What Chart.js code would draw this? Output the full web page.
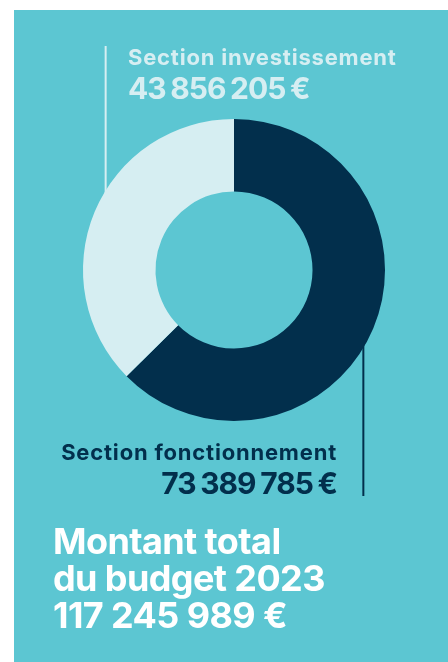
<!DOCTYPE html>
<html lang="fr">
<head>
<meta charset="UTF-8">
<title>Budget 2023</title>
<script src="https://cdn.jsdelivr.net/npm/chart.js"></script>
<style>
  html, body { margin: 0; padding: 0; background: #fff; }
  body { width: 448px; height: 662px; position: relative; overflow: hidden; font-family: Inter, Roboto, sans-serif; font-weight: 700; }
  #panel { position: absolute; left: 14px; top: 10px; right: 0; bottom: 0; background: #5cc6d2; }
  #wrap { position: absolute; left: 0; top: 0; width: 448px; height: 662px; }
  .t { position: absolute; line-height: 1; white-space: nowrap; }
  .lbl { font-size: 22px; letter-spacing: 0.8px; }
  .num { font-size: 30px; letter-spacing: -1px; word-spacing: -1.5px; }
  .light { color: #d6eef2; }
  .dark { color: #022f4c; }
  #total { left: 53px; top: 523px; font-size: 36px; line-height: 37px; color: #fff; letter-spacing: -0.6px; word-spacing: 0; }
</style>
</head>
<body>
<div id="panel"></div>
<div id="wrap"><canvas id="budget"></canvas></div>

<div class="t lbl light" style="left:128px; top:46px;" id="lblInv"></div>
<div class="t num light" style="left:128px; top:73px;" id="valInv"></div>
<div class="t lbl dark" style="right:111px; top:441px; text-align:right;" id="lblFon"></div>
<div class="t num dark" style="right:111px; top:468px; text-align:right;" id="valFon"></div>
<div class="t" id="total">Montant total<br>du budget 2023<br><span id="valTot"></span></div>

<script>
// données du budget 2023
const sections = ["Section fonctionnement", "Section investissement"];
const montants = [73389785, 43856205];
const couleurs = ["#022f4c", "#d6eef2"];
const totalBudget = 117245989;

// format "73 389 785 €"
function euros(v) {
    return v.toString().replace(/\B(?=(\d{3})+(?!\d))/g, " ") + " €";
}

document.getElementById("lblFon").textContent = sections[0];
document.getElementById("valFon").textContent = euros(montants[0]);
document.getElementById("lblInv").textContent = sections[1];
document.getElementById("valInv").textContent = euros(montants[1]);
document.getElementById("valTot").textContent = euros(totalBudget);

// traits de rappel, dessinés derrière l'anneau
const leaderLines = {
    id: "leaderLines",
    beforeDatasetsDraw(chart) {
        const arc = chart.getDatasetMeta(0).data[0];
        const cx = arc.x, cy = arc.y;
        const off = arc.outerRadius * 0.85;
        const ctx = chart.ctx;
        ctx.save();
        ctx.lineWidth = 2;
        ctx.strokeStyle = couleurs[1];
        ctx.beginPath();
        ctx.moveTo(cx - off, 46);
        ctx.lineTo(cx - off, cy);
        ctx.stroke();
        ctx.strokeStyle = couleurs[0];
        ctx.beginPath();
        ctx.moveTo(cx + off + 1, cy);
        ctx.lineTo(cx + off + 1, 496);
        ctx.stroke();
        ctx.restore();
    }
};

new Chart(document.getElementById("budget"), {
    type: "doughnut",
    data: {
        labels: sections,
        datasets: [{
            data: montants,
            backgroundColor: couleurs,
            borderWidth: 0
        }]
    },
    options: {
        responsive: true,
        maintainAspectRatio: false,
        animation: false,
        cutout: "52%",
        layout: { padding: { left: 83, right: 63, top: 119, bottom: 241 } },
        plugins: {
            legend: { display: false },
            tooltip: { enabled: false }
        }
    },
    plugins: [leaderLines]
});
</script>
</body>
</html>
